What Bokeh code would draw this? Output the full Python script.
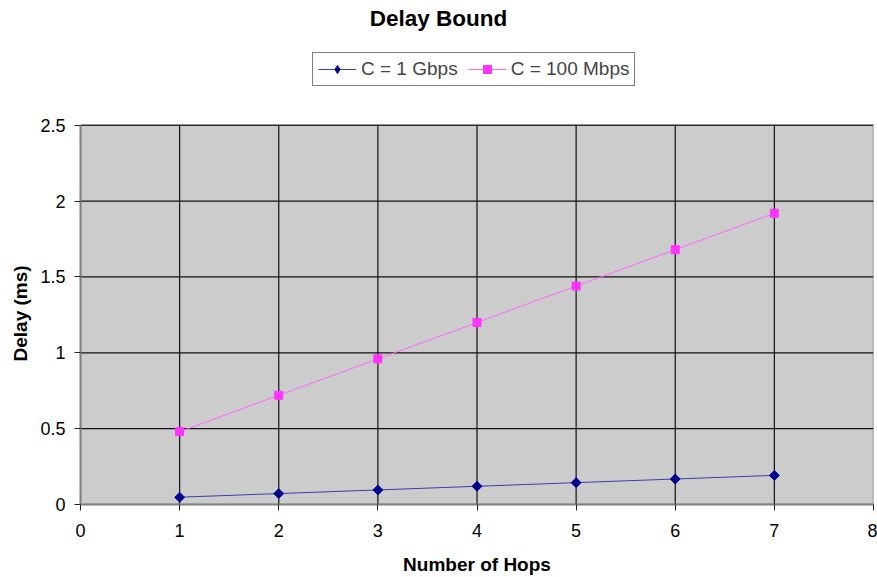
import math
from bokeh.plotting import figure
from bokeh.models import (ColumnDataSource, FixedTicker, Legend, LegendItem, Label, Range1d, Title)
from bokeh.embed import file_html
from bokeh.resources import INLINE

hops = [1, 2, 3, 4, 5, 6, 7]
delay_1gbps = [0.048, 0.072, 0.096, 0.12, 0.144, 0.168, 0.192]
delay_100mbps = [0.48, 0.72, 0.96, 1.2, 1.44, 1.68, 1.92]
x_ticks = [0, 1, 2, 3, 4, 5, 6, 7, 8]
y_ticks = [0, 0.5, 1, 1.5, 2, 2.5]
y_tick_labels = ["0", "0.5", "1", "1.5", "2", "2.5"]

FONT = "Liberation Sans"
X_MIN, X_MAX = 0, 8
Y_MIN, Y_MAX = 0, 2.5
FRAME_H = 505            # frame spans the whole height above the x axis
PLOT_H = 380             # pixel height of the grey plot area
Y_TOP = Y_MAX * FRAME_H / PLOT_H   # extra room above the plot area for title/legend

p = figure(width=877, height=577, output_backend="svg", toolbar_location=None,
           x_range=Range1d(X_MIN, X_MAX), y_range=Range1d(Y_MIN, Y_TOP),
           min_border_left=80, min_border_right=4, min_border_top=0, min_border_bottom=72)
p.border_fill_color = "white"
p.background_fill_color = "white"
p.outline_line_color = None
p.grid.visible = False

# grey plot area
p.quad(left=[X_MIN], right=[X_MAX], bottom=[Y_MIN], top=[Y_MAX],
       fill_color="#CCCCCC", line_color="#808080", line_width=1.5)
# grid lines
gy = y_ticks[1:]
gx = x_ticks[1:-1]
p.segment(x0=[X_MIN] * len(gy), x1=[X_MAX] * len(gy), y0=gy, y1=gy,
          line_color="#111111", line_width=1.2)
p.segment(x0=gx, x1=gx, y0=[Y_MIN] * len(gx), y1=[Y_MAX] * len(gx),
          line_color="#111111", line_width=1.2)

p.xaxis.ticker = FixedTicker(ticks=x_ticks)
p.yaxis.ticker = FixedTicker(ticks=y_ticks)
p.yaxis.bounds = (Y_MIN, Y_MAX)
p.yaxis.major_label_overrides = {t: s for t, s in zip(y_ticks, y_tick_labels)}

for ax in (p.xaxis, p.yaxis):
    ax.axis_line_color = "#808080"
    ax.axis_line_width = 2
    ax.major_tick_line_color = "#222222"
    ax.major_tick_in = 0
    ax.major_tick_out = 6
    ax.minor_tick_line_color = None
    ax.major_label_text_font = FONT
    ax.major_label_text_font_size = "18px"
    ax.major_label_text_color = "black"
    ax.axis_label_text_font = FONT
    ax.axis_label_text_font_size = "19px"
    ax.axis_label_text_font_style = "bold"
    ax.axis_label_text_color = "black"

p.xaxis.axis_label = "Number of Hops"
p.xaxis.major_label_standoff = 13
p.yaxis.major_label_standoff = 9
p.xaxis.axis_label_standoff = 14

# y axis title, centred on the grey plot area rather than the whole frame
ytitle = Title(text="Delay (ms)", align="left", offset=143, standoff=13,
               text_font=FONT, text_font_size="19px", text_font_style="bold",
               text_color="black")
p.add_layout(ytitle, "left")

src = ColumnDataSource(dict(x=hops, g=delay_1gbps, m=delay_100mbps))

l1 = p.line("x", "g", source=src, line_color="#3840A8", line_width=1)
s1 = p.scatter("x", "g", source=src, marker="square", angle=math.pi / 4, size=7,
               fill_color="#000090", line_color="#000090")
# legend key only (the rotated square is not rotated in legends)
s1_key = p.scatter(x=[float("nan")], y=[float("nan")], marker="diamond", size=12,
                   fill_color="#000090", line_color="#000090")
l2 = p.line("x", "m", source=src, line_color="#FF66FF", line_width=1)
s2 = p.scatter("x", "m", source=src, marker="square", size=8,
               fill_color="#FF33FF", line_color="#FF33FF")

legend = Legend(items=[LegendItem(label="C = 1 Gbps", renderers=[l1, s1_key]),
                       LegendItem(label="C = 100 Mbps", renderers=[l2, s2])],
                location=(232, 418), orientation="horizontal",
                border_line_color="black", border_line_width=1,
                background_fill_color="white", background_fill_alpha=1,
                label_text_font=FONT, label_text_font_size="19px",
                glyph_width=38, glyph_height=20, label_height=20,
                label_standoff=5, spacing=10, padding=5, margin=0)
p.add_layout(legend, "center")

title = Label(x=358, y=486, x_units="screen", y_units="screen", text="Delay Bound",
              text_font=FONT, text_font_size="22.5px", text_font_style="bold",
              text_align="center", text_baseline="middle", text_color="black")
p.add_layout(title)

open("out.html", "w").write(file_html(p, INLINE))
